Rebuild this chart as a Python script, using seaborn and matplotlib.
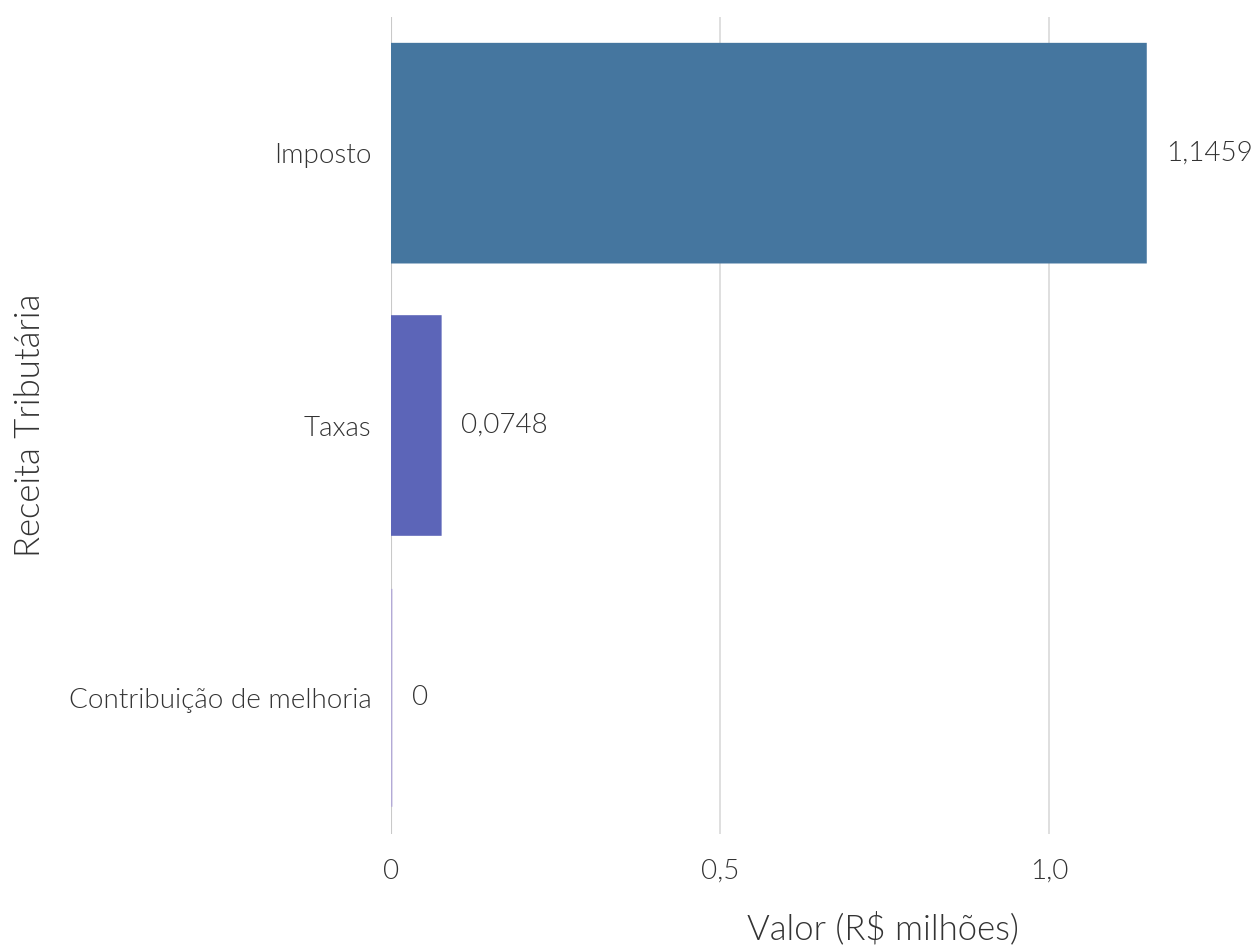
import matplotlib
matplotlib.use("Agg")
import matplotlib.pyplot as plt
import seaborn as sns
import pandas as pd

categorias = ["Imposto", "Taxas", "Contribuição de melhoria"]
valores = [1.1459, 0.0748, 0.0]
rotulos = ["1,1459", "0,0748", "0"]
cores = ["#45769f", "#5c65b8", "#b3aad6"]
xticks = [0, 0.5, 1.0]
xtick_labels = ["0", "0,5", "1,0"]

df = pd.DataFrame({"categoria": categorias, "valor": valores})

sns.set_theme(style="whitegrid")
plt.rcParams["font.family"] = ["Lato", "DejaVu Sans"]
plt.rcParams["font.weight"] = 300
plt.rcParams["text.color"] = "#333333"

fig = plt.figure(figsize=(12.58, 9.46), dpi=100)
ax = fig.add_axes([391 / 1258, 112 / 946, 790 / 1258, 817 / 946])

sns.barplot(data=df, x="valor", y="categoria", hue="categoria",
            palette=cores, orient="h", width=0.8, legend=False, ax=ax,
            saturation=1, linewidth=0)
for p, c in zip(ax.patches, cores):
    p.set_edgecolor(c)
    p.set_linewidth(2)
    p.set_zorder(3)
    p.set_snap(False)

for i, (v, lab) in enumerate(zip(valores, rotulos)):
    ax.annotate(lab, xy=(v, i), xytext=(21, 0), textcoords="offset pixels",
                ha="left", va="center", fontsize=20, color="#333333", fontweight=300)

ax.set_xlim(0, 1.2)
ax.set_xticks(xticks)
ax.set_xticklabels(xtick_labels)
ax.grid(axis="y", visible=False)
ax.grid(axis="x", color="#dcdcdc", linewidth=1.3)
for s in ax.spines.values():
    s.set_visible(False)
ax.axvline(0, color="#c9c9c9", linewidth=1.5, zorder=2)

ax.tick_params(axis="y", length=0, labelsize=20, labelcolor="#333333", pad=14)
ax.tick_params(axis="x", length=0, labelsize=20, labelcolor="#333333", pad=18)
for t in ax.get_xticklabels() + ax.get_yticklabels():
    t.set_fontweight(300)
ax.set_xlabel("Valor (R$ milhões)", fontsize=25, color="#333333", fontweight=300)
ax.set_ylabel("Receita Tributária", fontsize=25, color="#333333", fontweight=300)
ax.xaxis.set_label_coords((883 - 391) / 790, -(928 - 834) / 817)
ax.yaxis.set_label_coords(-(391 - 30) / 790, 0.5)
ax.xaxis.label.set_va("center")
ax.yaxis.label.set_va("center")

fig.savefig("out.png", dpi=100, facecolor="white")
